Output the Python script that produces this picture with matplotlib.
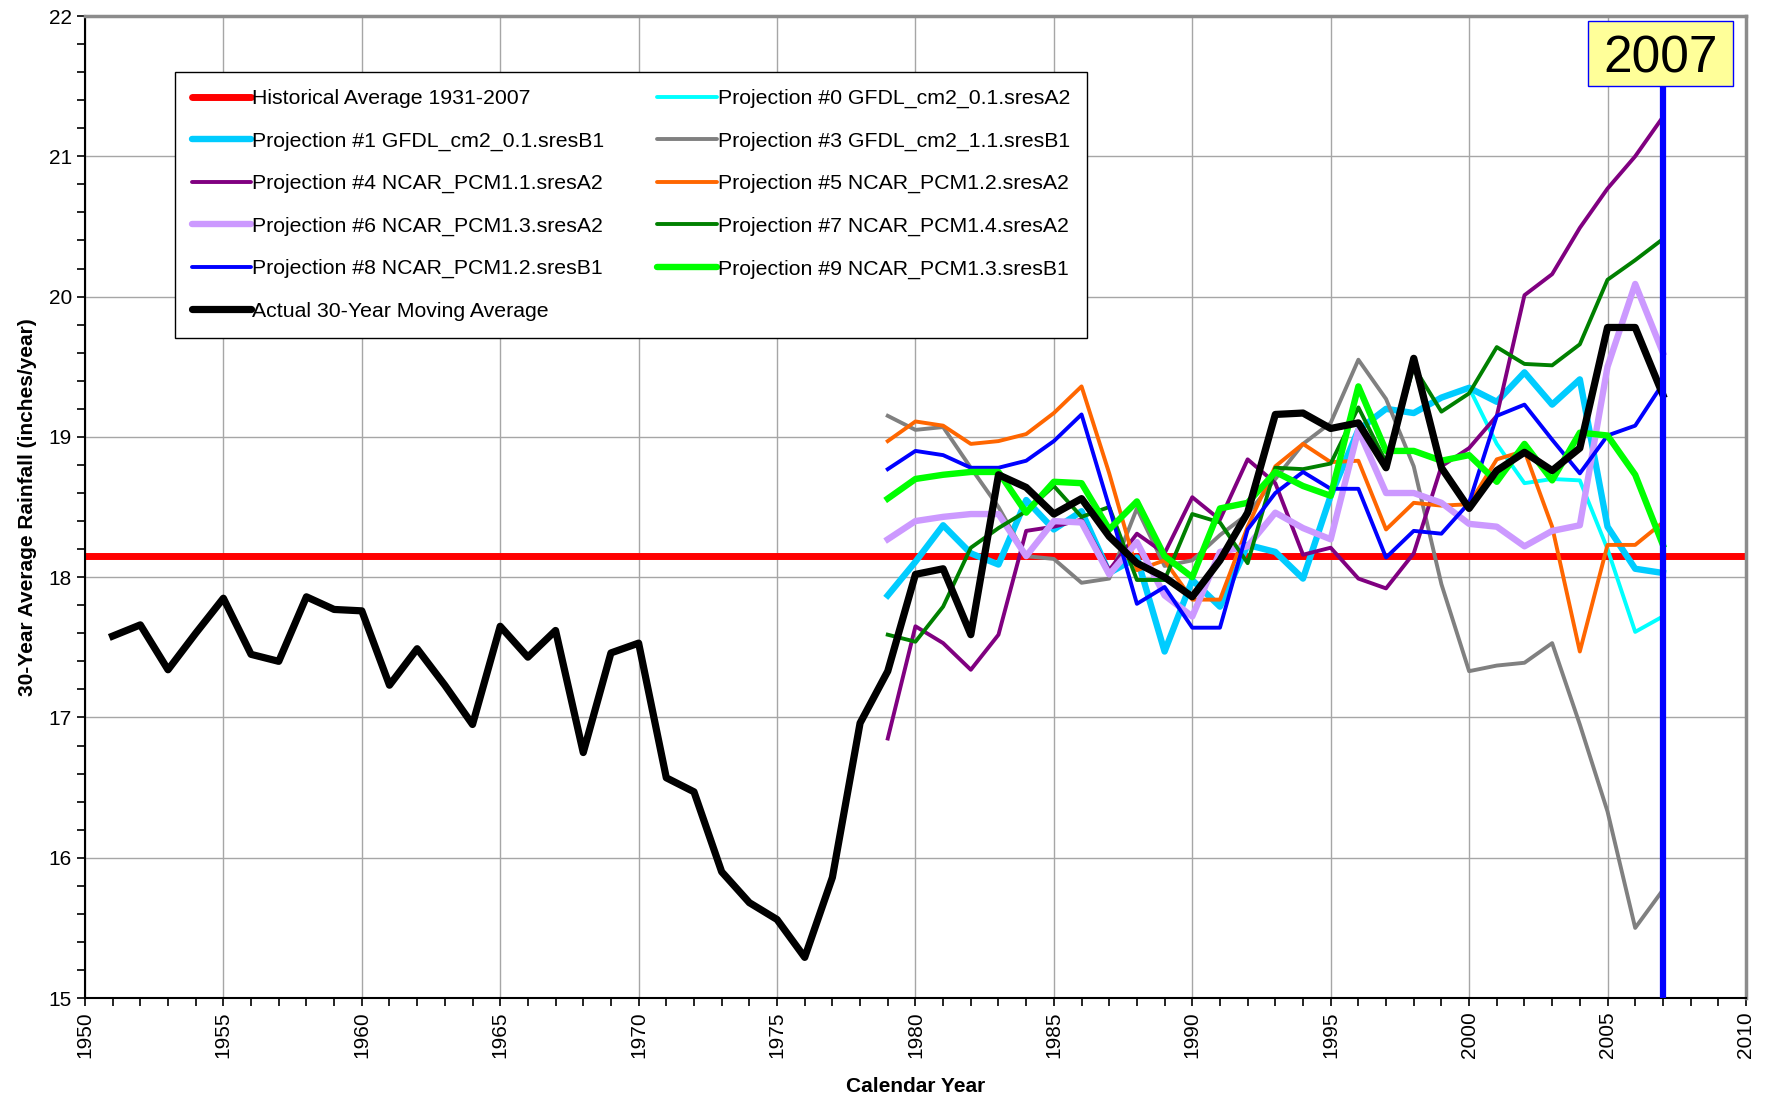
import matplotlib
matplotlib.use("Agg")
import matplotlib.pyplot as plt
from matplotlib.patches import Rectangle
from matplotlib.ticker import MultipleLocator

# -----------------------------
# Data
# -----------------------------
HIST_AVG = 18.15
MARKER_YEAR = 2007

actual_years = list(range(1951, 2008))
actual = [
    17.58, 17.66, 17.34, 17.60, 17.85, 17.45, 17.40, 17.86, 17.77, 17.76,
    17.23, 17.49, 17.23, 16.95, 17.65, 17.43, 17.62, 16.75, 17.46, 17.53,
    16.57, 16.47, 15.90, 15.68, 15.56, 15.29, 15.86, 16.96, 17.33,
    18.02, 18.06, 17.59, 18.73, 18.64, 18.45, 18.56, 18.29, 18.10, 18.00,
    17.86, 18.12, 18.46, 19.16, 19.17, 19.06, 19.10, 18.78, 19.56, 18.78,
    18.49, 18.76, 18.89, 18.76, 18.92, 19.78, 19.78, 19.30,
]

proj_years = list(range(1979, 2008))
proj0 = [17.87, 18.11, 18.37, 18.17, 18.09, 18.55, 18.34, 18.47, 18.03, 18.14,
         17.47, 17.98, 17.79, 18.23, 18.18, 17.99, 18.58, 19.05, 19.20, 19.17,
         19.28, 19.35, 18.95, 18.67, 18.70, 18.69, 18.20, 17.61, 17.72]
proj1 = [17.87, 18.11, 18.37, 18.17, 18.09, 18.55, 18.34, 18.47, 18.03, 18.14,
         17.47, 17.98, 17.79, 18.23, 18.18, 17.99, 18.58, 19.05, 19.20, 19.17,
         19.28, 19.35, 19.25, 19.46, 19.23, 19.41, 18.36, 18.06, 18.03]
proj3 = [19.15, 19.05, 19.07, 18.78, 18.50, 18.15, 18.13, 17.96, 17.99, 18.49,
         18.08, 18.12, 18.30, 18.45, 18.70, 18.95, 19.10, 19.55, 19.27, 18.79,
         17.95, 17.33, 17.37, 17.39, 17.53, 16.95, 16.33, 15.50, 15.77]
proj4 = [16.85, 17.65, 17.53, 17.34, 17.59, 18.33, 18.36, 18.41, 18.05, 18.31,
         18.17, 18.57, 18.41, 18.84, 18.67, 18.16, 18.21, 17.99, 17.92, 18.17,
         18.79, 18.92, 19.15, 20.01, 20.16, 20.49, 20.77, 21.00, 21.28]
proj5 = [18.97, 19.11, 19.08, 18.95, 18.97, 19.02, 19.17, 19.36, 18.74, 18.05,
         18.12, 17.84, 17.84, 18.36, 18.79, 18.95, 18.82, 18.83, 18.34, 18.53,
         18.51, 18.52, 18.84, 18.90, 18.36, 17.47, 18.23, 18.23, 18.39]
proj6 = [18.27, 18.40, 18.43, 18.45, 18.45, 18.15, 18.40, 18.39, 18.02, 18.25,
         17.87, 17.72, 18.18, 18.22, 18.46, 18.35, 18.27, 19.05, 18.60, 18.60,
         18.53, 18.38, 18.36, 18.22, 18.33, 18.37, 19.50, 20.09, 19.60]
proj7 = [17.59, 17.54, 17.79, 18.21, 18.35, 18.47, 18.65, 18.43, 18.50, 17.98,
         17.98, 18.45, 18.39, 18.10, 18.78, 18.77, 18.81, 19.21, 18.82, 19.50,
         19.18, 19.31, 19.64, 19.52, 19.51, 19.66, 20.12, 20.26, 20.41]
proj8 = [18.77, 18.90, 18.87, 18.78, 18.78, 18.83, 18.97, 19.16, 18.50, 17.81,
         17.93, 17.64, 17.64, 18.34, 18.60, 18.75, 18.63, 18.63, 18.14, 18.33,
         18.31, 18.53, 19.15, 19.23, 18.98, 18.74, 19.01, 19.08, 19.38]
proj9 = [18.56, 18.70, 18.73, 18.75, 18.75, 18.46, 18.68, 18.67, 18.34, 18.54,
         18.15, 18.00, 18.49, 18.53, 18.75, 18.65, 18.58, 19.36, 18.90, 18.90,
         18.83, 18.87, 18.68, 18.95, 18.69, 19.03, 19.01, 18.73, 18.23]

# -----------------------------
# Plot
# -----------------------------
plt.rcParams["font.family"] = ["Liberation Sans", "DejaVu Sans"]

fig = plt.figure(figsize=(17.7, 10.97), dpi=100)
ax = fig.add_axes([0.048, 0.0902, 0.9384, 0.8952])

THIN = 2.8
THICK = 4.6

h_hist = ax.axhline(HIST_AVG, color="#ff0000", lw=5, zorder=2,
                    label="Historical Average 1931-2007")
h0, = ax.plot(proj_years, proj0, color="#00ffff", lw=THIN, zorder=3,
              label="Projection #0 GFDL_cm2_0.1.sresA2")
h1, = ax.plot(proj_years, proj1, color="#00ccff", lw=THICK, zorder=3,
              label="Projection #1 GFDL_cm2_0.1.sresB1")
h3, = ax.plot(proj_years, proj3, color="#808080", lw=THIN, zorder=3,
              label="Projection #3 GFDL_cm2_1.1.sresB1")
h4, = ax.plot(proj_years, proj4, color="#800080", lw=THIN, zorder=3,
              label="Projection #4 NCAR_PCM1.1.sresA2")
h5, = ax.plot(proj_years, proj5, color="#ff6600", lw=THIN, zorder=3,
              label="Projection #5 NCAR_PCM1.2.sresA2")
h6, = ax.plot(proj_years, proj6, color="#cc99ff", lw=THICK, zorder=3,
              label="Projection #6 NCAR_PCM1.3.sresA2")
h7, = ax.plot(proj_years, proj7, color="#008000", lw=THIN, zorder=3,
              label="Projection #7 NCAR_PCM1.4.sresA2")
h8, = ax.plot(proj_years, proj8, color="#0000ff", lw=THIN, zorder=3,
              label="Projection #8 NCAR_PCM1.2.sresB1")
h9, = ax.plot(proj_years, proj9, color="#00ff00", lw=THICK, zorder=3,
              label="Projection #9 NCAR_PCM1.3.sresB1")
h_act, = ax.plot(actual_years, actual, color="black", lw=5.2, zorder=4,
                 label="Actual 30-Year Moving Average")

# current year marker + label box
BOX_BOTTOM, BOX_TOP = 21.5, 21.965
BOX_HALF = 2.62
ax.axvline(MARKER_YEAR, ymax=(BOX_BOTTOM - 15) / 7, color="#0000ff", lw=4.5,
           zorder=5)
box_cx = MARKER_YEAR - 0.08
ax.add_patch(Rectangle((box_cx - BOX_HALF, BOX_BOTTOM), 2 * BOX_HALF,
                       BOX_TOP - BOX_BOTTOM, facecolor="#ffff99",
                       edgecolor="#0000ff", lw=1, zorder=6))
ax.text(box_cx, (BOX_BOTTOM + BOX_TOP) / 2, str(MARKER_YEAR), fontsize=37,
        ha="center", va="center_baseline", zorder=7)

ax.set_xlim(1950, 2010)
ax.set_ylim(15, 22)
ax.xaxis.set_major_locator(MultipleLocator(5))
ax.xaxis.set_minor_locator(MultipleLocator(1))
ax.yaxis.set_major_locator(MultipleLocator(1))
ax.yaxis.set_minor_locator(MultipleLocator(0.2))
ax.tick_params(axis="both", which="both", direction="out", length=6,
               width=1.2, labelsize=15)
ax.tick_params(axis="x", labelrotation=90)

ax.grid(True, which="major", color="#a6a6a6", lw=1)
ax.set_axisbelow(True)

for side in ("left", "bottom"):
    ax.spines[side].set_color("black")
    ax.spines[side].set_linewidth(1.5)
for side in ("top", "right"):
    ax.spines[side].set_color("#8c8c8c")
    ax.spines[side].set_linewidth(2.5)

ax.set_xlabel("Calendar Year", fontsize=15, weight="bold", labelpad=14)
ax.set_ylabel("30-Year Average Rainfall (inches/year)", fontsize=15,
              weight="bold", labelpad=8)

handles = [h_hist, h1, h4, h6, h8, h_act, h0, h3, h5, h7, h9]
leg = ax.legend(handles=handles, loc="upper left",
                bbox_to_anchor=(0.054, 0.943), borderaxespad=0, ncol=2,
                fontsize=15.3, handlelength=2.8, handletextpad=0.05,
                columnspacing=2.5, labelspacing=1.1, borderpad=0.8,
                fancybox=False, framealpha=1, edgecolor="black")
leg.get_frame().set_linewidth(1.0)
leg.set_zorder(8)
for line in leg.get_lines():
    line.set_solid_capstyle("round")

plt.savefig("out.png", dpi=100)
